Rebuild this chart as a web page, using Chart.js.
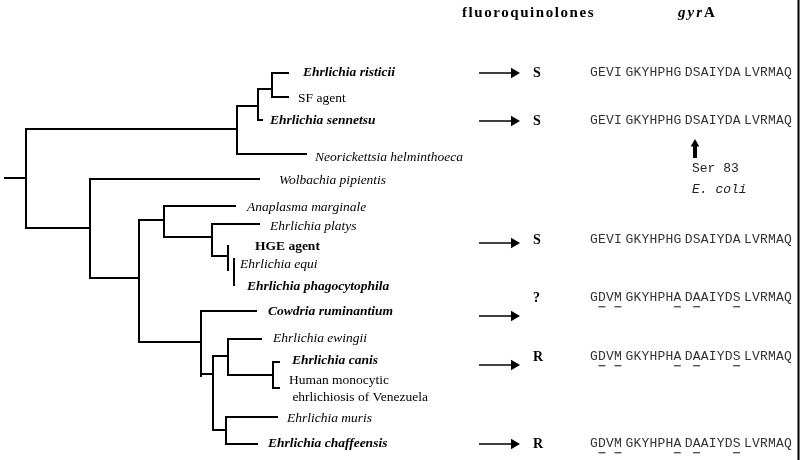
<!DOCTYPE html>
<html>
<head>
<meta charset="utf-8">
<script src="https://cdn.jsdelivr.net/npm/chart.js@4/dist/chart.umd.min.js"></script>
<style>
  html, body { margin: 0; padding: 0; background: #fff; }
  #tree { display: block; }
</style>
</head>
<body>
<canvas id="tree" width="800" height="460"></canvas>
<script>
// tree branches, in figure units (0..800 x 0..460)
// horizontal branches: [y, xFrom, xTo]
const hBranches = [
  [178, 5, 26],
  [129, 26, 237],
  [228, 26, 90],
  [106, 237, 258],
  [154, 237, 306],
  [89, 258, 272],
  [120, 258, 262],
  [73, 272, 288],
  [97, 272, 288],
  [179, 90, 259],
  [278, 90, 139],
  [220, 139, 164],
  [342, 139, 201],
  [206, 164, 235],
  [237, 164, 212],
  [224, 212, 259],
  [256, 212, 228],
  [311, 201, 256],
  [374, 201, 213],
  [356, 213, 228],
  [339, 228, 261],
  [375, 228, 273],
  [362, 273, 279],
  [388, 273, 279],
  [430, 213, 226],
  [417, 226, 277],
  [444, 226, 257]
];
// vertical connectors: [x, yFrom, yTo]
const vBranches = [
  [26, 129, 228],
  [237, 106, 154],
  [258, 89, 120],
  [272, 73, 97],
  [90, 179, 278],
  [139, 220, 342],
  [164, 206, 237],
  [212, 224, 256],
  [228, 246, 270],
  [234, 259, 285],
  [201, 311, 376],
  [213, 356, 430],
  [228, 339, 375],
  [273, 362, 388],
  [226, 417, 444]
];

const taxa = [
  'Ehrlichia risticii', 'SF agent', 'Ehrlichia sennetsu', 'Neorickettsia helminthoeca',
  'Wolbachia pipientis', 'Anaplasma marginale', 'Ehrlichia platys', 'HGE agent',
  'Ehrlichia equi', 'Ehrlichia phagocytophila', 'Cowdria ruminantium', 'Ehrlichia ewingii',
  'Ehrlichia canis', 'Human monocytic\n ehrlichiosis of Venezuela', 'Ehrlichia muris',
  'Ehrlichia chaffeensis'
];

// fluoroquinolone susceptibility and gyrA sequence, one per tested organism
const tested = ['Ehrlichia risticii', 'Ehrlichia sennetsu', 'HGE agent',
  'Cowdria ruminantium', 'Ehrlichia canis', 'Ehrlichia chaffeensis'];
const susceptibility = ['S', 'S', 'S', '?', 'R', 'R'];
const gyrA = [
  'GEVI GKYHPHG DSAIYDA LVRMAQ',
  'GEVI GKYHPHG DSAIYDA LVRMAQ',
  'GEVI GKYHPHG DSAIYDA LVRMAQ',
  'GDVM GKYHPHA DAAIYDS LVRMAQ',
  'GDVM GKYHPHA DAAIYDS LVRMAQ',
  'GDVM GKYHPHA DAAIYDS LVRMAQ'
];

// ---- layout ----
const labelPos = [
  [303, 73], [298, 98], [270, 121], [315, 157],
  [279, 180], [247, 207], [270, 226], [255, 247],
  [240, 264], [247, 287], [268, 312], [273, 338],
  [292, 361], [289, 380], [287, 418], [268, 444]
];
// b = bold, i = italic
const labelStyle = ['bi', '', 'bi', 'i', 'i', 'i', 'i', 'b', 'i', 'bi', 'bi', 'i', 'bi', '', 'i', 'bi'];
const rowY = [73, 121, 240, 298, 357, 444];
const arrowY = [73, 121, 243, 316, 365, 444];

const SERIF = "'Liberation Serif', 'Times New Roman', serif";
const MONO = "'Liberation Mono', 'Courier New', monospace";

function serifFont(style, size) {
  return (style.includes('i') ? 'italic ' : '') + (style.includes('b') ? 'bold ' : '') + size + 'px ' + SERIF;
}

const datasets = [];
const seg = (a, b, w) => ({
  data: [a, b], showLine: true, borderColor: '#000', borderWidth: w || 2,
  borderCapStyle: 'square', pointRadius: 0
});
hBranches.forEach(([yy, x0, x1]) => datasets.push(seg({x: x0, y: yy}, {x: x1, y: yy})));
vBranches.forEach(([xx, y0, y1]) => datasets.push(seg({x: xx, y: y0}, {x: xx, y: y1})));

// arrows pointing at the susceptibility column
arrowY.forEach(ay => {
  datasets.push({
    data: [{x: 479, y: ay}, {x: 514, y: ay}], showLine: true,
    borderColor: '#000', borderWidth: 1.4, borderCapStyle: 'butt',
    pointRadius: [0, 6], pointStyle: 'triangle', pointRotation: 90,
    pointBackgroundColor: '#000', pointBorderColor: '#000', pointBorderWidth: 0
  });
});
// Ser 83 marker
datasets.push({
  data: [{x: 695, y: 158}, {x: 695, y: 144}], showLine: true,
  borderColor: '#000', borderWidth: 4, borderCapStyle: 'butt',
  pointRadius: [0, 5], pointStyle: 'triangle', pointRotation: 0,
  pointBackgroundColor: '#000', pointBorderColor: '#000', pointBorderWidth: 0
});
// right frame edge
datasets.push(seg({x: 798.5, y: 0}, {x: 798.5, y: 460}, 2));

const textPlugin = {
  id: 'treeText',
  afterDatasetsDraw(chart) {
    const {ctx, scales: {x, y}} = chart;
    ctx.save();
    ctx.textBaseline = 'middle';
    ctx.textAlign = 'left';
    ctx.fillStyle = '#000';

    taxa.forEach((name, i) => {
      ctx.font = serifFont(labelStyle[i], 13.5);
      const px = x.getPixelForValue(labelPos[i][0]);
      const py = y.getPixelForValue(labelPos[i][1]);
      name.split('\n').forEach((line, k) => ctx.fillText(line, px, py + k * 17));
    });

    // headers
    ctx.font = serifFont('b', 15);
    const head = 'fluoroquinolones';
    const hw = ctx.measureText(head).width;
    if ('letterSpacing' in ctx) ctx.letterSpacing = ((133 - hw) / head.length).toFixed(2) + 'px';
    ctx.fillText(head, x.getPixelForValue(462), y.getPixelForValue(13));
    ctx.font = serifFont('bi', 15);
    if ('letterSpacing' in ctx) ctx.letterSpacing = '2px';
    ctx.fillText('gyr', x.getPixelForValue(678), y.getPixelForValue(13));
    const gw = ctx.measureText('gyr').width;
    ctx.font = serifFont('b', 15);
    if ('letterSpacing' in ctx) ctx.letterSpacing = '0px';
    ctx.fillText('A', x.getPixelForValue(678) + gw, y.getPixelForValue(13));

    // susceptibility letters
    ctx.font = serifFont('b', 14);
    susceptibility.forEach((s, r) => {
      ctx.fillText(s, x.getPixelForValue(533), y.getPixelForValue(rowY[r]));
    });

    // gyrA sequences, residues differing from the first row underlined
    const ref = gyrA[0].replace(/ /g, '');
    const adv = 8.0, gap = 3.3;
    ctx.font = '13px ' + MONO;
    ctx.textAlign = 'center';
    gyrA.forEach((seq, r) => {
      const py = y.getPixelForValue(rowY[r]);
      let px = x.getPixelForValue(590);
      let k = 0;
      for (const ch of seq) {
        if (ch === ' ') { px += gap; continue; }
        ctx.fillStyle = '#333';
        ctx.fillText(ch, px + adv / 2, py);
        if (ch !== ref[k]) {
          ctx.fillStyle = '#555';
          ctx.fillRect(px + 0.5, py + 8, adv - 1, 1.4);
        }
        px += adv;
        k++;
      }
    });

    ctx.textAlign = 'left';
    ctx.fillStyle = '#222';
    ctx.font = '13px ' + MONO;
    ctx.fillText('Ser 83', x.getPixelForValue(692), y.getPixelForValue(169));
    ctx.font = 'italic 13px ' + MONO;
    ctx.fillText('E. coli', x.getPixelForValue(692), y.getPixelForValue(190));
    ctx.restore();
  }
};

new Chart(document.getElementById('tree'), {
  type: 'scatter',
  data: { datasets },
  options: {
    responsive: false,
    animation: false,
    layout: { padding: 0, autoPadding: false },
    plugins: { legend: { display: false }, tooltip: { enabled: false } },
    scales: {
      x: { type: 'linear', display: false, min: 0, max: 800 },
      y: { type: 'linear', display: false, min: 0, max: 460, reverse: true }
    }
  },
  plugins: [textPlugin]
});
</script>
</body>
</html>
